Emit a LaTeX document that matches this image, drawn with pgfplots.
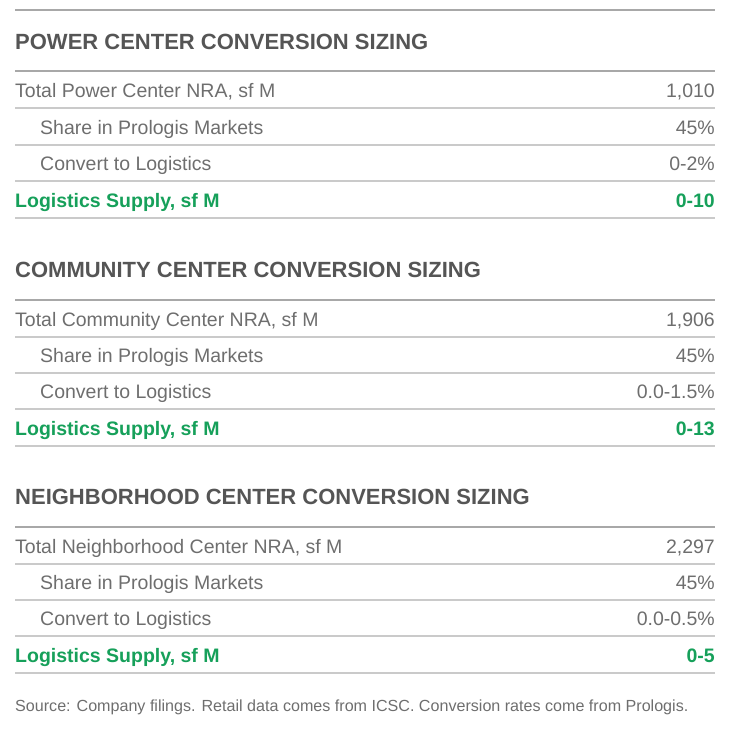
\documentclass[border=0pt]{standalone}
\usepackage{pgfplots}
\pgfplotsset{compat=1.18}
\usepackage{fontspec}
\setmainfont{Liberation Sans}
\definecolor{hdr}{HTML}{555555}
\definecolor{txt}{HTML}{6E6E6E}
\definecolor{grn}{HTML}{16A05A}
\definecolor{rulehd}{HTML}{A8A8A8}
\definecolor{rulerow}{HTML}{CACACA}
\newcommand{\hd}{\fontsize{22}{25}\selectfont\bfseries\color{hdr}}
\newcommand{\bd}{\fontsize{19.5}{22}\selectfont\color{txt}}
\newcommand{\gb}{\fontsize{19.5}{22}\selectfont\bfseries\color{grn}}
\tikzset{lt/.style={anchor=base west, inner sep=0pt}, rt/.style={anchor=base east, inner sep=0pt}}
\begin{document}
\begin{tikzpicture}
\begin{axis}[scale only axis, width=731pt, height=745pt, xmin=0, xmax=731, ymin=0, ymax=745,
  y dir=reverse, hide axis, clip=false, unbounded coords=jump]
  \addplot[draw=none] coordinates {(0,0)(731,745)};
  % heavy rules: top and under each title
  \addplot[rulehd, line width=1.8pt] coordinates {(15,10)(715,10)(nan,nan)(15,71)(715,71)(nan,nan)(15,300)(715,300)(nan,nan)(15,527)(715,527)};
  % row rules
  \addplot[rulerow, line width=1.2pt] coordinates {
    (15,108)(715,108)(nan,nan)(15,145)(715,145)(nan,nan)(15,181)(715,181)(nan,nan)(15,218)(715,218)(nan,nan)
    (15,337)(715,337)(nan,nan)(15,373)(715,373)(nan,nan)(15,409)(715,409)(nan,nan)(15,446)(715,446)(nan,nan)
    (15,564)(715,564)(nan,nan)(15,600)(715,600)(nan,nan)(15,636)(715,636)(nan,nan)(15,673)(715,673)};

  % section 1
  \node[lt] at (axis cs:15,49) {\hd POWER CENTER CONVERSION SIZING};
  \node[lt] at (axis cs:15,97) {\bd Total Power Center NRA, sf M};
  \node[lt] at (axis cs:40,134) {\bd Share in Prologis Markets};
  \node[lt] at (axis cs:40,170) {\bd Convert to Logistics};
  \node[lt] at (axis cs:15,207) {\gb Logistics Supply, sf M};
  \node[rt] at (axis cs:715,97) {\bd 1,010};
  \node[rt] at (axis cs:715,134) {\bd 45\%};
  \node[rt] at (axis cs:715,170) {\bd 0-2\%};
  \node[rt] at (axis cs:715,207) {\gb 0-10};

  % section 2
  \node[lt] at (axis cs:15,277) {\hd COMMUNITY CENTER CONVERSION SIZING};
  \node[lt] at (axis cs:15,326) {\bd Total Community Center NRA, sf M};
  \node[lt] at (axis cs:40,362) {\bd Share in Prologis Markets};
  \node[lt] at (axis cs:40,398) {\bd Convert to Logistics};
  \node[lt] at (axis cs:15,435) {\gb Logistics Supply, sf M};
  \node[rt] at (axis cs:715,326) {\bd 1,906};
  \node[rt] at (axis cs:715,362) {\bd 45\%};
  \node[rt] at (axis cs:715,398) {\bd 0.0-1.5\%};
  \node[rt] at (axis cs:715,435) {\gb 0-13};

  % section 3
  \node[lt] at (axis cs:15,504) {\hd NEIGHBORHOOD CENTER CONVERSION SIZING};
  \node[lt] at (axis cs:15,553) {\bd Total Neighborhood Center NRA, sf M};
  \node[lt] at (axis cs:40,589) {\bd Share in Prologis Markets};
  \node[lt] at (axis cs:40,625) {\bd Convert to Logistics};
  \node[lt] at (axis cs:15,662) {\gb Logistics Supply, sf M};
  \node[rt] at (axis cs:715,553) {\bd 2,297};
  \node[rt] at (axis cs:715,589) {\bd 45\%};
  \node[rt] at (axis cs:715,625) {\bd 0.0-0.5\%};
  \node[rt] at (axis cs:715,662) {\gb 0-5};

  \node[lt] at (axis cs:15,711) {\fontsize{16.1}{18}\selectfont\color{txt} Source: Company filings. Retail data comes from ICSC. Conversion rates come from Prologis.};
\end{axis}
\end{tikzpicture}
\end{document}
